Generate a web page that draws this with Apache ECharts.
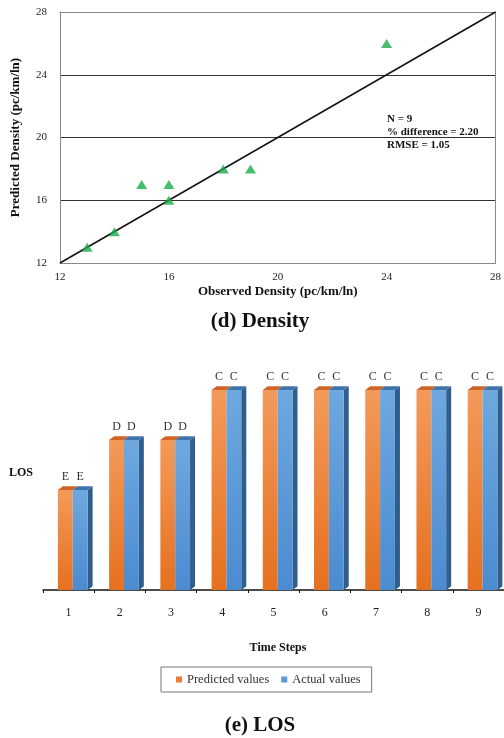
<!DOCTYPE html>
<html>
<head>
<meta charset="utf-8">
<script src="https://cdn.jsdelivr.net/npm/echarts@6/dist/echarts.min.js"></script>
<style>
html,body{margin:0;padding:0;background:#fff;}
#chart{width:504px;height:738px;}
</style>
</head>
<body>
<div id="chart"></div>
<script>
// ---- Density scatter (d) ----
const observedDensity  = [13, 14, 15, 16, 16, 18, 19, 24];
const predictedDensity = [13, 14, 17, 17, 16, 18, 18, 26];
const parityLine = [12, 28];
const densityTicks = [12, 16, 20, 24, 28];
const statsText = ['N = 9', '% difference = 2.20', 'RMSE = 1.05'];

// ---- LOS bars (e) ----
const timeSteps = ['1', '2', '3', '4', '5', '6', '7', '8', '9'];
const predictedLOS = ['E', 'D', 'D', 'C', 'C', 'C', 'C', 'C', 'C'];
const actualLOS    = ['E', 'D', 'D', 'C', 'C', 'C', 'C', 'C', 'C'];
const losLevel = { A: 6, B: 5, C: 4, D: 3, E: 2, F: 1 };

const SERIF = "'Liberation Serif', 'Times New Roman', serif";

const chart = echarts.init(document.getElementById('chart'), null, { renderer: 'canvas' });

function grad(c1, c2) {
  return { type: 'linear', x: 0, y: 0, x2: 0, y2: 1, colorStops: [{ offset: 0, color: c1 }, { offset: 1, color: c2 }] };
}

function make3D(offsetFrac, letters, front, topCol, sideCol) {
  return function (params, api) {
    const i = api.value(0), v = api.value(1);
    const p0 = api.coord([i, 0]);
    const p1 = api.coord([i, v]);
    const bw = api.size([1, 0])[0];
    const w = bw * 0.29;
    const x = p0[0] + offsetFrac * bw;
    const dx = 5, dy = 3.7;
    const yTop = p1[1], yBot = p0[1];
    const children = [];
    if (sideCol) {
      children.push({ type: 'polygon', shape: { points: [[x + w, yTop], [x + w + dx, yTop - dy], [x + w + dx, yBot - dy], [x + w, yBot]] }, style: { fill: sideCol } });
    }
    children.push({ type: 'polygon', shape: { points: [[x, yTop], [x + dx, yTop - dy], [x + w + dx, yTop - dy], [x + w, yTop]] }, style: { fill: topCol } });
    children.push({ type: 'rect', shape: { x: x, y: yTop, width: w, height: yBot - yTop }, style: { fill: front } });
    children.push({ type: 'text', style: { text: letters[params.dataIndex], x: x + w / 2, y: yTop - 13.5, align: 'center', verticalAlign: 'middle', fill: '#333', font: '12px ' + SERIF } });
    return { type: 'group', children: children };
  };
}

const option = {
  animation: false,
  backgroundColor: '#fff',
  grid: [
    { left: 60, top: 12, width: 438, height: 251, show: false },
    { left: 43, top: 340, width: 465, height: 250, show: false }
  ],
  xAxis: [
    {
      gridIndex: 0, type: 'value', min: densityTicks[0], max: densityTicks[densityTicks.length - 1], interval: 4,
      axisLine: { show: true, lineStyle: { color: '#888', width: 1 } },
      axisTick: { show: false },
      axisLabel: { color: '#222', fontFamily: SERIF, fontSize: 11, margin: 9 },
      splitLine: { show: false },
      name: 'Observed Density (pc/km/ln)', nameLocation: 'middle', nameGap: 22,
      nameTextStyle: { color: '#111', fontFamily: SERIF, fontSize: 13, fontWeight: 'bold' }
    },
    {
      gridIndex: 1, type: 'category', data: timeSteps, boundaryGap: true, offset: 5,
      axisLine: { show: true, lineStyle: { color: '#111', width: 1.5 } },
      axisTick: { show: true, length: 3, lineStyle: { color: '#111' } },
      axisLabel: { color: '#222', fontFamily: SERIF, fontSize: 12, margin: 12 },
      splitLine: { show: false }
    },
    {
      gridIndex: 0, type: 'value', position: 'top', min: 12, max: 28, interval: 4,
      axisLine: { show: true, lineStyle: { color: '#888', width: 1 } },
      axisTick: { show: false }, axisLabel: { show: false }, splitLine: { show: false }
    }
  ],
  yAxis: [
    {
      gridIndex: 0, type: 'value', min: densityTicks[0], max: densityTicks[densityTicks.length - 1], interval: 4,
      axisLine: { show: true, lineStyle: { color: '#888', width: 1 } },
      axisTick: { show: false },
      axisLabel: { color: '#222', fontFamily: SERIF, fontSize: 11, margin: 13 },
      splitLine: { show: true, lineStyle: { color: ['rgba(0,0,0,0)', '#333', '#333', '#333', 'rgba(0,0,0,0)'], width: 1 } },
      name: 'Predicted Density (pc/km/ln)', nameLocation: 'middle', nameGap: 38, nameRotate: 90,
      nameTextStyle: { color: '#111', fontFamily: SERIF, fontSize: 13, fontWeight: 'bold' }
    },
    {
      gridIndex: 1, type: 'value', min: 0, max: 5, show: false
    },
    {
      gridIndex: 0, type: 'value', position: 'right', min: 12, max: 28, interval: 4,
      axisLine: { show: true, lineStyle: { color: '#888', width: 1 } },
      axisTick: { show: false }, axisLabel: { show: false }, splitLine: { show: false }
    }
  ],
  legend: {
    data: ['Predicted values', 'Actual values'],
    left: 161, top: 667,
    itemWidth: 6, itemHeight: 6, itemGap: 12,
    icon: 'rect',
    borderColor: '#777', borderWidth: 1,
    padding: [6, 11, 6, 15],
    textStyle: { fontFamily: SERIF, fontSize: 12.5, color: '#333' }
  },
  series: [
    {
      type: 'line', xAxisIndex: 0, yAxisIndex: 0,
      data: parityLine.map(v => [v, v]),
      symbol: 'none', lineStyle: { color: '#111', width: 1.5 }, silent: true, z: 2
    },
    {
      type: 'scatter', xAxisIndex: 0, yAxisIndex: 0,
      data: observedDensity.map((x, i) => [x, predictedDensity[i]]),
      symbol: 'triangle', symbolSize: [11, 9],
      itemStyle: { color: '#1aab4b' }, z: 3
    },
    {
      name: 'Predicted values', type: 'custom', xAxisIndex: 1, yAxisIndex: 1,
      data: timeSteps.map((t, i) => [i, losLevel[predictedLOS[i]]]),
      itemStyle: { color: '#ed7d31' },
      renderItem: make3D(-0.209, predictedLOS, grad('#f39a5a', '#e6701f'), '#cf6426', null),
      z: 2
    },
    {
      name: 'Actual values', type: 'custom', xAxisIndex: 1, yAxisIndex: 1,
      data: timeSteps.map((t, i) => [i, losLevel[actualLOS[i]]]),
      itemStyle: { color: '#5b9bd5' },
      renderItem: make3D(0.081, actualLOS, grad('#6ea8df', '#4b8bd0'), '#3f73ab', '#2f5d8c'),
      z: 3
    }
  ],
  graphic: [
    { type: 'text', left: 387, top: 113, style: { text: statsText.join('\n'), font: 'bold 11px ' + SERIF, fill: '#111', lineHeight: 12.7 } },
    { type: 'text', x: 260, y: 322, style: { text: '(d) Density', font: 'bold 21px ' + SERIF, fill: '#111', align: 'center', verticalAlign: 'middle' } },
    { type: 'text', x: 9, y: 473, style: { text: 'LOS', font: 'bold 12px ' + SERIF, fill: '#111', align: 'left', verticalAlign: 'middle' } },
    { type: 'text', x: 278, y: 648, style: { text: 'Time Steps', font: 'bold 12px ' + SERIF, fill: '#111', align: 'center', verticalAlign: 'middle' } },
    { type: 'text', x: 260, y: 726, style: { text: '(e) LOS', font: 'bold 21px ' + SERIF, fill: '#111', align: 'center', verticalAlign: 'middle' } }
  ]
};
chart.setOption(option);
</script>
</body>
</html>
